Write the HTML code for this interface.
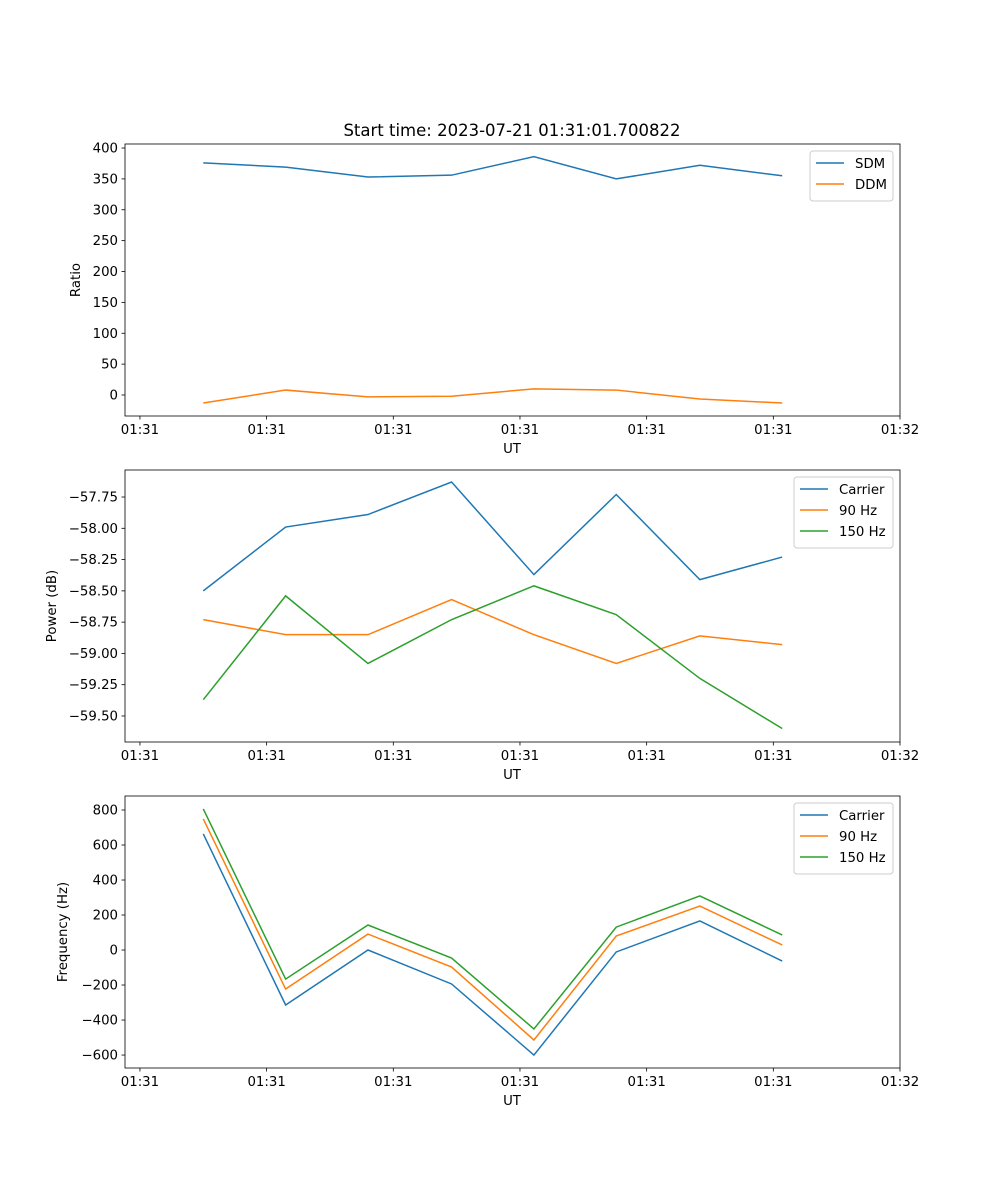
<!DOCTYPE html>
<html><head><meta charset="utf-8"><style>
body{margin:0;background:#fff;}
svg{display:block;font-family:"DejaVu Sans","Liberation Sans",sans-serif;}
</style></head><body>
<svg id="fig" width="1000" height="1200" xmlns="http://www.w3.org/2000/svg">
<rect width="1000" height="1200" fill="#fff"/>
<text x="512" y="136" font-size="16.5" text-anchor="middle">Start time: 2023-07-21 01:31:01.700822</text>
</svg>
<script>
const times=[5.0,11.5,18.0,24.6,31.1,37.6,44.2,50.7];
const tickSecs=[0,10,20,30,40,50,60];
const tickLabels=["01:31","01:31","01:31","01:31","01:31","01:31","01:32"];
const sdm=[376,369,353,356,386,350,372,355];
const ddm=[-13,8,-3,-2,10,8,-6.5,-13];
const pCarrier=[-58.50,-57.99,-57.89,-57.63,-58.37,-57.73,-58.41,-58.23];
const p90=[-58.73,-58.85,-58.85,-58.57,-58.85,-59.08,-58.86,-58.93];
const p150=[-59.37,-58.54,-59.08,-58.73,-58.46,-58.69,-59.20,-59.60];
const fCarrier=[663,-314,0,-194,-600,-11,166,-63];
const f90=[749,-223,91,-97,-514,80,251,29];
const f150=[806,-166,143,-46,-451,131,309,86];
const ticks1=[0,50,100,150,200,250,300,350,400];
const ticks2=[-59.5,-59.25,-59.0,-58.75,-58.5,-58.25,-58.0,-57.75];
const ticks3=[-600,-400,-200,0,200,400,600,800];
const C=["#1f77b4","#ff7f0e","#2ca02c"];
const NS="http://www.w3.org/2000/svg";
const svg=document.getElementById('fig');
function mk(tag,attrs,parent){const e=document.createElementNS(NS,tag);for(const k in attrs)e.setAttribute(k,attrs[k]);(parent||svg).appendChild(e);return e;}
const X0=125,X1=900,xmin=-1.18,xmax=60;
function xs(t){return X0+(t-xmin)/(xmax-xmin)*(X1-X0);}
function panel(name,top,ymin,ymax,yticks,fmt,ylabel,series,legend){
  const bot=top+272;
  const g=mk('g',{});
  
  
  const ys=v=>bot-(v-ymin)/(ymax-ymin)*272;
  series.forEach((s,i)=>{
    const p=mk('polyline',{points:s.data.map((v,j)=>xs(times[j])+','+ys(v)).join(' '),fill:'none',stroke:C[i],'stroke-width':1.5},g);
    
    
  });
  mk('rect',{x:X0,y:top,width:X1-X0,height:272,fill:'none',stroke:'#000','stroke-width':0.8},g);
  tickSecs.forEach((t,i)=>{
    const x=xs(t);
    mk('line',{x1:x,x2:x,y1:bot,y2:bot+3.5,stroke:'#000','stroke-width':0.8},g);
    const tx=mk('text',{x:x,y:bot+18,'font-size':13.3,'text-anchor':'middle'},g);tx.textContent=tickLabels[i];
    
    
  });
  const xl=mk('text',{x:512,y:bot+37,'font-size':13.3,'text-anchor':'middle'},g);xl.textContent='UT';
  
  
  yticks.forEach(v=>{
    const y=ys(v);
    mk('line',{x1:X0-3.5,x2:X0,y1:y,y2:y,stroke:'#000','stroke-width':0.8},g);
    const tx=mk('text',{x:X0-7,y:y+4.5,'font-size':13.3,'text-anchor':'end'},g);tx.textContent=fmt(v);
    
    
  });
  const yl=mk('text',{x:legend.ylx,y:top+136,'font-size':13.3,'text-anchor':'middle',transform:`rotate(-90 ${legend.ylx} ${top+136})`},g);yl.textContent=ylabel;
  
  
  const lg=mk('g',{},g);
  
  
  const lx=legend.x,ly=top+7,lh=8+series.length*21;
  mk('rect',{x:lx,y:ly,width:893-lx,height:lh,rx:3,fill:'#fff','fill-opacity':0.8,stroke:'#ccc'},lg);
  series.forEach((s,i)=>{
    const y=ly+12+i*21;
    mk('line',{x1:lx+6,x2:lx+34,y1:y,y2:y,stroke:C[i],'stroke-width':1.5},lg);
    const t=mk('text',{x:lx+45,y:y+5,'font-size':13.3},lg);t.textContent=s.name;
    
    
  });
}
panel('ratio-panel',144,-34,406.5,ticks1,v=>String(v),'Ratio',[{name:'SDM',data:sdm},{name:'DDM',data:ddm}],{x:810,ylx:80});
panel('power-panel',470,-59.708,-57.534,ticks2,v=>'\u2212'+Math.abs(v).toFixed(2),'Power (dB)',[{name:'Carrier',data:pCarrier},{name:'90 Hz',data:p90},{name:'150 Hz',data:p150}],{x:794,ylx:56});
panel('frequency-panel',796,-674,880,ticks3,v=>(v<0?'\u2212':'')+Math.abs(v),'Frequency (Hz)',[{name:'Carrier',data:fCarrier},{name:'90 Hz',data:f90},{name:'150 Hz',data:f150}],{x:794,ylx:67});
</script>
</body></html>
